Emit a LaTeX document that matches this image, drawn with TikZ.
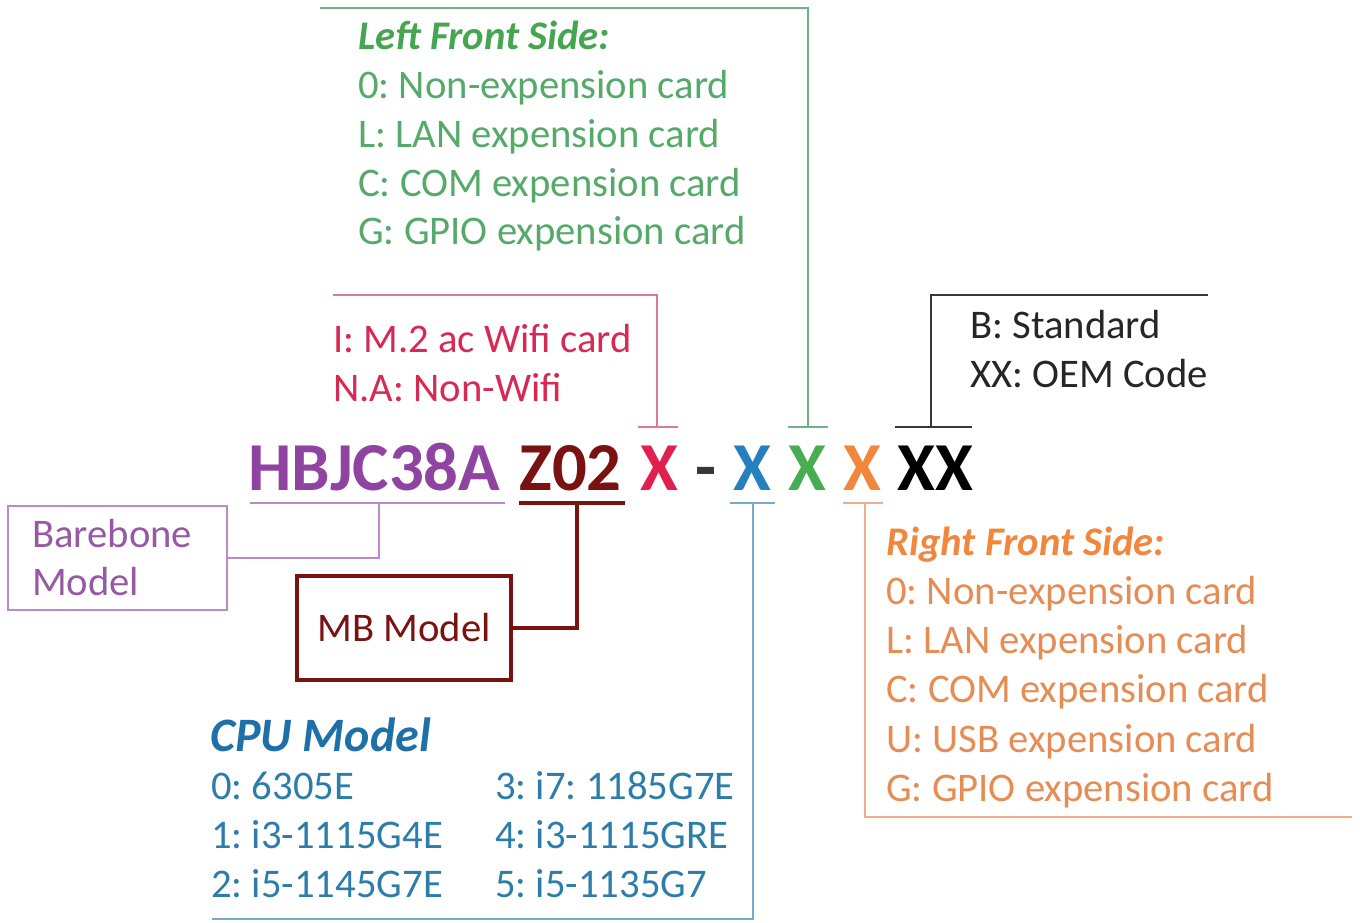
\documentclass[tikz,border=0pt]{standalone}
\usepackage{fontspec}
\setmainfont{Carlito}
\frenchspacing
\definecolor{cpurple}{RGB}{142,68,160}
\definecolor{cpurtxt}{RGB}{150,90,165}
\definecolor{cpurline}{RGB}{185,140,200}
\definecolor{cdred}{RGB}{122,18,18}
\definecolor{cred}{RGB}{226,32,78}
\definecolor{credtxt}{RGB}{214,42,85}
\definecolor{credline}{RGB}{222,120,150}
\definecolor{cblue}{RGB}{36,128,190}
\definecolor{cbluetxt}{RGB}{45,125,170}
\definecolor{cbluehd}{RGB}{30,112,168}
\definecolor{cblueline}{RGB}{120,170,205}
\definecolor{cgreen}{RGB}{72,172,80}
\definecolor{cgreentxt}{RGB}{85,170,105}
\definecolor{cgreenhd}{RGB}{70,165,80}
\definecolor{cgreenline}{RGB}{110,180,130}
\definecolor{corange}{RGB}{240,135,60}
\definecolor{corangetxt}{RGB}{230,140,85}
\definecolor{corangeline}{RGB}{235,175,140}
\definecolor{cgray}{RGB}{55,55,55}
\tikzset{
  txt/.style={anchor=base west, inner sep=0pt, font=\fontsize{30.5}{36.75}\selectfont},
  head/.style={txt, font=\fontsize{30.5}{36.75}\selectfont\bfseries\itshape},
  codetxt/.style={anchor=base west, inner sep=0pt, font=\fontsize{51.5}{51.5}\selectfont\bfseries},
  thinline/.style={line width=1.6pt},
  thickline/.style={line width=2.4pt},
}
\begin{document}
\begin{tikzpicture}[x=0.75pt,y=-0.75pt]
\useasboundingbox (0,0) rectangle (1360,923);
% ---------- code ----------
\node[codetxt,text=cpurple] (hb) at (248,490) {HBJC38A};
\node[codetxt,text=cdred] (z02) at (519,490) {Z02};
\node[codetxt,text=cred] (xr) at (640,490) {X};
\node[codetxt,text=cgray] (dash) at (695,490) {-};
\node[codetxt,text=cblue] (xb) at (733,490) {X};
\node[codetxt,text=cgreen] (xg) at (788,490) {X};
\node[codetxt,text=corange] (xo) at (843,490) {X};
\node[codetxt,text=black] (xx) at (897,490) {XX};
% ---------- barebone ----------
\node[draw=cpurline, thinline, minimum width=164.25pt, minimum height=78pt,
      text width=128pt, inner xsep=18pt, align=left, text=cpurtxt,
      font=\fontsize{30.5}{36}\selectfont] (bb) at (117.5,558) {Barebone\\Model};
\coordinate (hbU1) at (250,503);
\coordinate (hbU2) at (505,503);
\coordinate (hbU) at (379,503);
\draw[cpurline, thinline] (hbU1) -- (hbU2);
\draw[cpurline, thinline] (bb.east) -| (hbU);
% ---------- MB model ----------
\node[draw=cdred, thickline, minimum width=160.5pt, minimum height=78pt, text=cdred,
      font=\fontsize{30.5}{36}\selectfont] (mb) at (404,628) {MB Model};
\coordinate (zU1) at (519,503);
\coordinate (zU2) at (625,503);
\coordinate (zU) at (577,503);
\draw[cdred, thickline] (zU1) -- (zU2);
\draw[cdred, thickline] (mb.east) -| (zU);
% ---------- wifi (red) ----------
\coordinate (rB1) at (638,427);
\coordinate (rB2) at (678,427);
\coordinate (rT) at (657,427);
\coordinate (rC) at (657,295);
\coordinate (rE) at (333,295);
\draw[credline, thinline] (rB1) -- (rB2);
\draw[credline, thinline] (rT) -- (rC) -- (rE);
\node[txt,text=credtxt] (w1) at (333,353) {I: M.2 ac Wifi card};
\node[txt,text=credtxt] (w2) at (333,402) {N.A: Non-Wifi};
% ---------- left front side (green) ----------
\coordinate (gB1) at (788,427);
\coordinate (gB2) at (828,427);
\coordinate (gT) at (808,427);
\coordinate (gC) at (808,8);
\coordinate (gE) at (320,8);
\draw[cgreenline, thinline] (gB1) -- (gB2);
\draw[cgreenline, thinline] (gT) -- (gC) -- (gE);
\node[head,text=cgreenhd] (gh) at (358,50) {Left Front Side:};
\node[txt,text=cgreentxt] (g1) at (358,99) {0: Non-expension card};
\node[txt,text=cgreentxt] (g2) at (358,148) {L: LAN expension card};
\node[txt,text=cgreentxt] (g3) at (358,197) {C: COM expension card};
\node[txt,text=cgreentxt] (g4) at (358,245) {G: GPIO expension card};
% ---------- OEM (black) ----------
\coordinate (kB1) at (895,427);
\coordinate (kB2) at (972,427);
\coordinate (kT) at (931,427);
\coordinate (kC) at (931,295);
\coordinate (kE) at (1208,295);
\draw[cgray, thinline] (kB1) -- (kB2);
\draw[cgray, thinline] (kT) -- (kC) -- (kE);
\node[txt,text=black!85] (k1) at (970,339) {B: Standard};
\node[txt,text=black!85] (k2) at (970,388) {XX: OEM Code};
% ---------- CPU (blue) ----------
\coordinate (bB1) at (730,503);
\coordinate (bB2) at (775,503);
\coordinate (bT) at (753,503);
\coordinate (bC) at (753,919);
\coordinate (bE) at (212,919);
\draw[cblueline, thinline] (bB1) -- (bB2);
\draw[cblueline, thinline] (bT) -- (bC) -- (bE);
\node[anchor=base west, inner sep=0pt, text=cbluehd,
      font=\fontsize{36}{40}\selectfont\bfseries\itshape] (ch) at (210,751) {CPU Model};
\node[txt,text=cbluetxt] (c0) at (211,799) {0: 6305E};
\node[txt,text=cbluetxt] (c1) at (211,848) {1: i3-1115G4E};
\node[txt,text=cbluetxt] (c2) at (211,897) {2: i5-1145G7E};
\node[txt,text=cbluetxt] (c3) at (495,799) {3: i7: 1185G7E};
\node[txt,text=cbluetxt] (c4) at (495,848) {4: i3-1115GRE};
\node[txt,text=cbluetxt] (c5) at (495,897) {5: i5-1135G7};
% ---------- right front side (orange) ----------
\coordinate (oB1) at (843,503);
\coordinate (oB2) at (883,503);
\coordinate (oT) at (865,503);
\coordinate (oC) at (865,817);
\coordinate (oE) at (1352,817);
\draw[corangeline, thinline] (oB1) -- (oB2);
\draw[corangeline, thinline] (oT) -- (oC) -- (oE);
\node[head,text=corange] (oh) at (886,555) {Right Front Side:};
\node[txt,text=corangetxt] (o1) at (886,604) {0: Non-expension card};
\node[txt,text=corangetxt] (o2) at (886,653) {L: LAN expension card};
\node[txt,text=corangetxt] (o3) at (886,702) {C: COM expension card};
\node[txt,text=corangetxt] (o4) at (886,752) {U: USB expension card};
\node[txt,text=corangetxt] (o5) at (886,801) {G: GPIO expension card};
\end{tikzpicture}
\end{document}
